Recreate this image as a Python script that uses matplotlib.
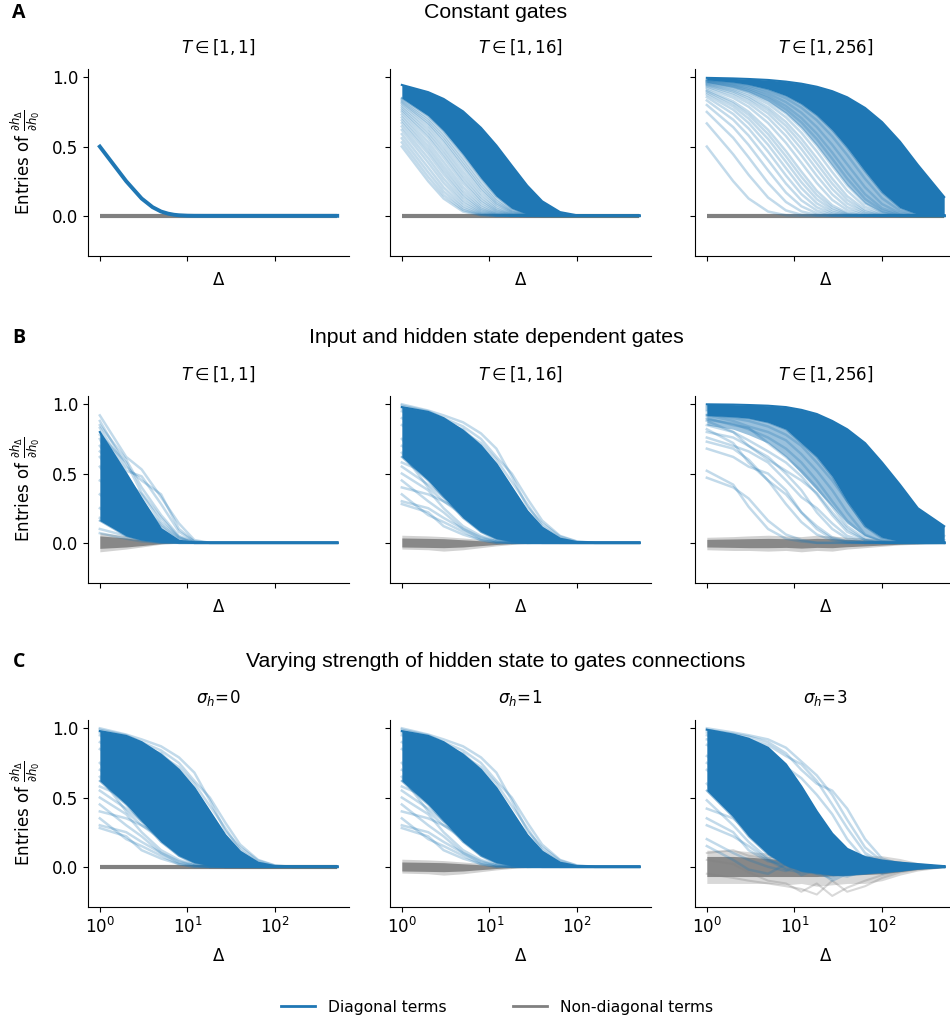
import matplotlib
matplotlib.use("Agg")
import matplotlib.pyplot as plt
from matplotlib.lines import Line2D

BLUE = "#1f77b4"
GRAY = "#808080"

# Delta grid (x values at which curves are read)
DELTA = [1, 2, 3, 5, 8, 12, 18, 27, 40, 64, 100, 160, 256, 512]
ZERO = [0, 0, 0, 0, 0, 0, 0, 0, 0, 0, 0, 0, 0, 0]

# ---------------- Row A : constant gates ----------------
A1_delta = [1, 2, 3, 4, 5, 6, 7, 8, 10, 12, 16, 32, 64, 128, 256, 512]
A1_diag = [0.50, 0.25, 0.125, 0.0625, 0.031, 0.016, 0.008, 0.004, 0.001, 0.0002, 0, 0, 0, 0, 0, 0]

A2_strands = [
    [.50, .250, .125, .031, .004, 0, 0, 0, 0, 0, 0, 0, 0, 0],
    [.53, .281, .149, .042, .006, 0, 0, 0, 0, 0, 0, 0, 0, 0],
    [.56, .314, .176, .055, .010, .001, 0, 0, 0, 0, 0, 0, 0, 0],
    [.59, .348, .205, .072, .015, .002, 0, 0, 0, 0, 0, 0, 0, 0],
    [.62, .384, .238, .092, .022, .003, 0, 0, 0, 0, 0, 0, 0, 0],
    [.645, .416, .268, .112, .030, .005, 0, 0, 0, 0, 0, 0, 0, 0],
    [.67, .449, .301, .135, .041, .008, .001, 0, 0, 0, 0, 0, 0, 0],
    [.69, .476, .329, .156, .051, .012, .001, 0, 0, 0, 0, 0, 0, 0],
    [.71, .504, .358, .180, .065, .016, .002, 0, 0, 0, 0, 0, 0, 0],
    [.73, .533, .389, .207, .081, .023, .003, 0, 0, 0, 0, 0, 0, 0],
    [.75, .563, .422, .237, .100, .032, .006, 0, 0, 0, 0, 0, 0, 0],
    [.765, .585, .448, .262, .117, .040, .008, .001, 0, 0, 0, 0, 0, 0],
    [.78, .608, .475, .289, .137, .051, .011, .001, 0, 0, 0, 0, 0, 0],
    [.795, .632, .502, .318, .160, .064, .016, .002, 0, 0, 0, 0, 0, 0],
    [.81, .656, .531, .349, .185, .080, .023, .003, 0, 0, 0, 0, 0, 0],
    [.82, .672, .551, .371, .204, .092, .028, .005, 0, 0, 0, 0, 0, 0],
    [.83, .689, .572, .394, .225, .107, .035, .007, .001, 0, 0, 0, 0, 0],
    [.84, .706, .593, .418, .248, .123, .043, .009, .001, 0, 0, 0, 0, 0],
]
A2_band_lo = [.85, .723, .614, .444, .273, .142, .054, .012, .002, 0, 0, 0, 0, 0]
A2_band_hi = [.945, .893, .844, .754, .636, .508, .362, .218, .105, .027, .004, 0, 0, 0]

A3_strands = [
    [.50, .25, .125, .031, .004, 0, 0, 0, 0, 0, 0, 0, 0, 0],
    [.667, .444, .296, .132, .039, .008, .001, 0, 0, 0, 0, 0, 0, 0],
    [.75, .563, .422, .237, .100, .032, .006, 0, 0, 0, 0, 0, 0, 0],
    [.80, .64, .512, .328, .168, .069, .018, .002, 0, 0, 0, 0, 0, 0],
    [.833, .694, .579, .402, .233, .112, .038, .007, .001, 0, 0, 0, 0, 0],
    [.857, .735, .630, .463, .291, .157, .062, .016, .002, 0, 0, 0, 0, 0],
    [.875, .766, .670, .513, .344, .201, .090, .027, .005, 0, 0, 0, 0, 0],
    [.889, .790, .702, .555, .390, .243, .120, .042, .009, .001, 0, 0, 0, 0],
    [.90, .81, .729, .590, .430, .282, .150, .058, .015, .001, 0, 0, 0, 0],
    [.909, .826, .751, .621, .467, .319, .180, .076, .022, .002, 0, 0, 0, 0],
    [.923, .852, .787, .670, .527, .383, .237, .115, .041, .006, 0, 0, 0, 0],
    [.933, .871, .813, .708, .576, .437, .289, .155, .063, .012, .001, 0, 0, 0],
    [.941, .886, .834, .739, .616, .483, .336, .194, .089, .021, .002, 0, 0, 0],
    [.947, .898, .850, .763, .649, .523, .378, .232, .115, .031, .004, 0, 0, 0],
    [.952, .907, .864, .783, .677, .557, .416, .268, .142, .044, .008, 0, 0, 0],
    [.958, .918, .880, .808, .711, .600, .465, .316, .182, .065, .014, .001, 0, 0],
    [.963, .927, .893, .828, .740, .636, .507, .361, .221, .090, .023, .002, 0, 0],
    [.968, .937, .906, .849, .769, .675, .554, .412, .269, .122, .038, .005, 0, 0],
    [.971, .944, .917, .865, .793, .706, .593, .457, .313, .156, .055, .010, .001, 0],
    [.976, .952, .929, .884, .821, .744, .641, .513, .372, .206, .085, .019, .002, 0],
    [.980, .960, .940, .902, .848, .781, .690, .573, .439, .267, .127, .037, .005, 0],
]
A3_halo_lo = [.963, .927, .893, .828, .740, .636, .507, .361, .221, .090, .023, .002, 0, 0]
A3_band_lo = [.982, .965, .948, .915, .868, .809, .727, .620, .493, .322, .170, .059, .011, 0]
A3_band_hi = [.996, .992, .988, .981, .969, .954, .932, .900, .856, .779, .677, .536, .368, .136]

# ---------------- Row B : input and hidden state dependent gates ----------------
B1_strands = [
    [.92, .62, .53, .33, .14, .02, 0, 0, 0, 0, 0, 0, 0, 0],
    [.88, .55, .45, .35, .10, .01, 0, 0, 0, 0, 0, 0, 0, 0],
    [.85, .60, .40, .20, .05, .005, 0, 0, 0, 0, 0, 0, 0, 0],
    [.83, .52, .48, .28, .08, .01, 0, 0, 0, 0, 0, 0, 0, 0],
    [.78, .58, .36, .18, .04, 0, 0, 0, 0, 0, 0, 0, 0, 0],
    [.75, .35, .18, .05, 0, 0, 0, 0, 0, 0, 0, 0, 0, 0],
    [.70, .45, .35, .15, .04, 0, 0, 0, 0, 0, 0, 0, 0, 0],
    [.66, .50, .30, .13, .03, 0, 0, 0, 0, 0, 0, 0, 0, 0],
    [.62, .40, .28, .12, .02, 0, 0, 0, 0, 0, 0, 0, 0, 0],
    [.55, .30, .20, .08, .01, 0, 0, 0, 0, 0, 0, 0, 0, 0],
    [.45, .35, .22, .06, .01, 0, 0, 0, 0, 0, 0, 0, 0, 0],
    [.35, .20, .12, .04, 0, 0, 0, 0, 0, 0, 0, 0, 0, 0],
    [.25, .15, .10, .03, 0, 0, 0, 0, 0, 0, 0, 0, 0, 0],
    [.18, .12, .06, .01, 0, 0, 0, 0, 0, 0, 0, 0, 0, 0],
    [.10, .05, .02, 0, 0, 0, 0, 0, 0, 0, 0, 0, 0, 0],
    [.07, .03, .01, 0, 0, 0, 0, 0, 0, 0, 0, 0, 0, 0],
]
B1_band_lo = [.16, .05, .02, .003, 0, 0, 0, 0, 0, 0, 0, 0, 0, 0]
B1_band_hi = [.80, .50, .32, .10, .015, 0, 0, 0, 0, 0, 0, 0, 0, 0]
B1_gray_outer_lo = [-.065, -.045, -.03, -.01, -.002, 0, 0, 0, 0, 0, 0, 0, 0, 0]
B1_gray_outer_hi = [.075, .05, .03, .01, .002, 0, 0, 0, 0, 0, 0, 0, 0, 0]
B1_gray_inner_lo = [-.04, -.03, -.02, -.006, 0, 0, 0, 0, 0, 0, 0, 0, 0, 0]
B1_gray_inner_hi = [.05, .035, .02, .006, 0, 0, 0, 0, 0, 0, 0, 0, 0, 0]

B2_strands = [
    [1.0, .955, .92, .87, .79, .68, .48, .26, .14, .045, .008, 0, 0, 0],
    [.99, .95, .90, .84, .75, .62, .50, .32, .16, .05, .01, 0, 0, 0],
    [.97, .93, .88, .80, .72, .60, .44, .28, .12, .03, .005, 0, 0, 0],
    [.95, .90, .86, .82, .70, .55, .38, .22, .09, .02, 0, 0, 0, 0],
    [.90, .82, .72, .58, .42, .28, .14, .05, .01, 0, 0, 0, 0, 0],
    [.85, .75, .62, .45, .30, .15, .05, .01, 0, 0, 0, 0, 0, 0],
    [.75, .55, .40, .25, .10, .03, .01, 0, 0, 0, 0, 0, 0, 0],
    [.70, .60, .50, .30, .15, .06, .02, 0, 0, 0, 0, 0, 0, 0],
    [.65, .40, .30, .20, .08, .02, 0, 0, 0, 0, 0, 0, 0, 0],
    [.58, .50, .45, .35, .22, .10, .03, .01, 0, 0, 0, 0, 0, 0],
    [.55, .42, .33, .25, .12, .04, .01, 0, 0, 0, 0, 0, 0, 0],
    [.50, .38, .25, .12, .05, .01, 0, 0, 0, 0, 0, 0, 0, 0],
    [.45, .30, .22, .10, .04, .01, 0, 0, 0, 0, 0, 0, 0, 0],
    [.40, .35, .30, .22, .12, .05, .01, 0, 0, 0, 0, 0, 0, 0],
    [.35, .20, .15, .08, .02, 0, 0, 0, 0, 0, 0, 0, 0, 0],
    [.30, .25, .18, .10, .03, .01, 0, 0, 0, 0, 0, 0, 0, 0],
    [.28, .22, .12, .06, .02, 0, 0, 0, 0, 0, 0, 0, 0, 0],
]
B2_band_lo = [.62, .45, .33, .18, .08, .03, .01, 0, 0, 0, 0, 0, 0, 0]
B2_band_hi = [.98, .945, .90, .81, .70, .57, .40, .23, .11, .03, .005, 0, 0, 0]
B2_gray_outer_lo = [-.045, -.05, -.06, -.05, -.035, -.022, -.012, -.006, -.002, 0, 0, 0, 0, 0]
B2_gray_outer_hi = [.055, .05, .045, .035, .025, .015, .008, .004, .002, 0, 0, 0, 0, 0]
B2_gray_inner_lo = [-.03, -.033, -.035, -.03, -.02, -.012, -.006, -.003, 0, 0, 0, 0, 0, 0]
B2_gray_inner_hi = [.035, .032, .03, .022, .015, .009, .005, .002, 0, 0, 0, 0, 0, 0]

B3_strands = [
    [.52, .42, .26, .10, .03, .01, 0, 0, 0, 0, 0, 0, 0, 0],
    [.47, .40, .32, .16, .06, .02, 0, 0, 0, 0, 0, 0, 0, 0],
    [.73, .68, .60, .45, .28, .15, .06, .02, 0, 0, 0, 0, 0, 0],
    [.68, .62, .55, .50, .38, .22, .10, .03, .01, 0, 0, 0, 0, 0],
    [.80, .76, .70, .62, .50, .38, .22, .10, .03, 0, 0, 0, 0, 0],
    [.85, .80, .74, .66, .58, .48, .35, .20, .08, .02, 0, 0, 0, 0],
    [.89, .86, .82, .76, .68, .58, .45, .30, .16, .05, .01, 0, 0, 0],
    [.90, .85, .83, .72, .62, .52, .40, .26, .12, .03, 0, 0, 0, 0],
    [.82, .72, .58, .45, .35, .22, .12, .04, .01, 0, 0, 0, 0, 0],
    [.76, .70, .66, .58, .45, .33, .25, .14, .05, .01, 0, 0, 0, 0],
    [.93, .90, .88, .84, .78, .70, .58, .45, .30, .12, .03, .01, 0, 0],
    [.95, .93, .91, .88, .84, .78, .68, .55, .40, .20, .06, .01, 0, 0],
    [.96, .95, .93, .91, .88, .83, .76, .66, .52, .32, .14, .04, .01, 0],
    [.97, .96, .95, .93, .91, .87, .82, .74, .62, .44, .25, .10, .03, 0],
    [.98, .97, .96, .95, .93, .90, .86, .80, .72, .56, .38, .20, .08, .02],
    [.99, .98, .97, .96, .95, .93, .90, .85, .78, .64, .47, .30, .15, .05],
    [.88, .80, .70, .60, .52, .45, .36, .22, .10, .02, 0, 0, 0, 0],
    [.92, .88, .84, .80, .74, .64, .52, .38, .22, .06, .01, 0, 0, 0],
]
B3_halo_lo = [.85, .82, .78, .72, .62, .50, .38, .26, .14, .05, .01, 0, 0, 0]
B3_band_lo = [.92, .91, .90, .87, .82, .72, .62, .48, .30, .12, .04, .01, 0, 0]
B3_band_hi = [1.0, .998, .995, .99, .98, .96, .93, .88, .82, .72, .58, .42, .25, .12]
B3_gray_outer_lo = [-.05, -.055, -.055, -.06, -.055, -.065, -.055, -.06, -.045, -.035, -.025, -.015, -.01, -.004]
B3_gray_outer_hi = [.04, .045, .05, .055, .05, .045, .055, .05, .04, .035, .025, .015, .01, .004]
B3_gray_inner_lo = [-.03, -.033, -.035, -.035, -.033, -.038, -.033, -.035, -.028, -.022, -.016, -.01, -.006, -.002]
B3_gray_inner_hi = [.025, .028, .03, .032, .03, .028, .032, .03, .025, .02, .015, .01, .006, .002]

# ---------------- Row C : varying hidden-to-gate strength ----------------
C3_strands = [
    [1.0, .97, .95, .92, .86, .76, .66, .52, .34, .14, .04, .01, 0, 0],
    [.99, .96, .94, .90, .82, .70, .60, .55, .42, .20, .06, .02, -.01, 0],
    [.97, .95, .92, .88, .80, .74, .62, .45, .28, .10, .03, 0, .01, 0],
    [.95, .90, .85, .78, .72, .64, .52, .38, .20, .05, -.02, .01, 0, 0],
    [.30, .22, .15, .05, -.02, -.04, -.02, 0, 0, 0, 0, 0, 0, 0],
    [.35, .25, .12, .04, .02, -.03, -.05, -.02, 0, 0, 0, 0, 0, 0],
    [.48, .30, .18, .06, -.01, .02, -.03, -.04, -.02, -.01, 0, 0, 0, 0],
    [.42, .35, .25, .12, .05, 0, -.05, -.08, -.03, -.01, 0, 0, 0, 0],
    [.60, .40, .30, .15, .08, .03, -.02, -.06, -.04, 0, .01, 0, 0, 0],
    [.70, .55, .40, .22, .10, .05, .02, -.05, -.07, -.03, -.01, 0, 0, 0],
    [.80, .70, .58, .40, .25, .12, .05, .02, .06, .03, 0, -.02, 0, 0],
    [.88, .80, .72, .60, .45, .30, .18, .08, .02, -.04, .02, .03, 0, 0],
    [.75, .65, .55, .48, .35, .22, .10, .04, -.02, .05, .02, -.03, .01, 0],
    [.92, .88, .82, .72, .62, .50, .35, .20, .08, .02, -.05, -.02, .01, 0],
    [.20, .10, .05, 0, -.03, .02, .06, -.02, .04, .08, .03, -.02, .01, 0],
    [.15, .05, -.02, -.05, .02, -.06, -.02, -.10, -.05, .02, -.04, .02, 0, 0],
]
C3_band_lo = [.55, .36, .22, .09, .01, -.03, -.045, -.06, -.06, -.05, -.04, -.03, -.015, -.003]
C3_band_hi = [.99, .955, .925, .86, .74, .58, .40, .24, .13, .07, .045, .03, .02, .005]
C3_gray_outer_lo = [-.12, -.12, -.12, -.12, -.13, -.12, -.14, -.13, -.12, -.12, -.10, -.06, -.03, -.005]
C3_gray_outer_hi = [.12, .12, .11, .10, .09, .10, .08, .10, .09, .08, .08, .06, .03, .005]
C3_gray_inner_lo = [-.07, -.07, -.07, -.07, -.07, -.07, -.07, -.065, -.06, -.055, -.05, -.035, -.018, -.003]
C3_gray_inner_hi = [.075, .075, .07, .06, .05, .05, .05, .05, .05, .045, .04, .03, .015, .003]
C3_gray_lines = [
    [-.05, -.08, -.10, -.12, -.14, -.16, -.20, -.10, -.18, -.14, -.08, -.04, -.02, 0],
    [.05, .02, -.04, -.10, -.12, -.18, -.12, -.21, -.15, -.10, -.06, -.03, -.01, 0],
    [.10, .12, .08, .06, .10, .05, .12, .08, .11, .06, .05, .03, .01, 0],
]

ROW_TITLES = ["Constant gates", "Input and hidden state dependent gates",
              "Varying strength of hidden state to gates connections"]
ROW_LETTERS = ["A", "B", "C"]
COL_TITLES = [[r"$T\in[1,1]$", r"$T\in[1,16]$", r"$T\in[1,256]$"],
              [r"$T\in[1,1]$", r"$T\in[1,16]$", r"$T\in[1,256]$"],
              [r"$\sigma_h\!=\!0$", r"$\sigma_h\!=\!1$", r"$\sigma_h\!=\!3$"]]
Y_TICKS = [0.0, 0.5, 1.0]
X_TICKS = [1, 10, 100]
LEGEND_LABELS = ["Diagonal terms", "Non-diagonal terms"]

GB2 = [(B2_gray_outer_lo, B2_gray_outer_hi, 0.35), (B2_gray_inner_lo, B2_gray_inner_hi, 0.9)]
panels = [
    [dict(x=A1_delta, lines=[A1_diag], lw_lines=2.8, alpha_lines=1.0, gray_zero=True),
     dict(lines=A2_strands, bands=[(A2_band_lo, A2_band_hi, 1.0)], gray_zero=True),
     dict(lines=A3_strands, bands=[(A3_halo_lo, A3_band_lo, 0.45), (A3_band_lo, A3_band_hi, 1.0)], gray_zero=True)],
    [dict(lines=B1_strands, bands=[(B1_band_lo, B1_band_hi, 1.0)],
          gbands=[(B1_gray_outer_lo, B1_gray_outer_hi, 0.35), (B1_gray_inner_lo, B1_gray_inner_hi, 0.9)]),
     dict(lines=B2_strands, bands=[(B2_band_lo, B2_band_hi, 1.0)], gbands=GB2),
     dict(lines=B3_strands, bands=[(B3_halo_lo, B3_band_lo, 0.45), (B3_band_lo, B3_band_hi, 1.0)],
          gbands=[(B3_gray_outer_lo, B3_gray_outer_hi, 0.35), (B3_gray_inner_lo, B3_gray_inner_hi, 0.9)])],
    [dict(lines=B2_strands, bands=[(B2_band_lo, B2_band_hi, 1.0)], gray_zero=True),
     dict(lines=B2_strands, bands=[(B2_band_lo, B2_band_hi, 1.0)], gbands=GB2),
     dict(lines=C3_strands, bands=[(C3_band_lo, C3_band_hi, 1.0)],
          gbands=[(C3_gray_outer_lo, C3_gray_outer_hi, 0.3), (C3_gray_inner_lo, C3_gray_inner_hi, 0.9)],
          glines=C3_gray_lines)],
]

W, H = 950, 1021
plt.rcParams["mathtext.fontset"] = "dejavusans"
fig = plt.figure(figsize=(W / 100, H / 100), dpi=100)

col_left = [88, 390, 695]
row_top = [69, 396, 720]
ax_w, ax_h = 261, 187
row_title_y = [12, 337, 661]

for r in range(3):
    fig.text(0.522, 1 - row_title_y[r] / H, ROW_TITLES[r], ha="center", va="center",
             fontsize=15.3, family="Liberation Sans")
    fig.text(19 / W, 1 - (row_title_y[r] + 1) / H, ROW_LETTERS[r], ha="center", va="center",
             fontsize=14, fontweight="bold", family="Open Sans")
    for c in range(3):
        p = panels[r][c]
        x = p.get("x", DELTA)
        ax = fig.add_axes([col_left[c] / W, 1 - (row_top[r] + ax_h) / H, ax_w / W, ax_h / H])
        # gray (non-diagonal) terms
        if p.get("gray_zero"):
            ax.plot(DELTA, ZERO, color=GRAY, lw=3.0, solid_capstyle="butt", zorder=1)
        for lo, hi, a in p.get("gbands", []):
            ax.fill_between(DELTA, lo, hi, color=GRAY, alpha=a, lw=0, zorder=1)
        for g in p.get("glines", []):
            ax.plot(DELTA, g, color=GRAY, alpha=0.3, lw=1.5, zorder=1)
        # blue (diagonal) terms
        for lo, hi, a in p.get("bands", []):
            ax.fill_between(DELTA, lo, hi, color=BLUE, alpha=a, lw=0, zorder=2)
            if a >= 1.0:
                ax.plot(DELTA, hi, color=BLUE, lw=1.5, zorder=2)
                ax.plot(DELTA, lo, color=BLUE, lw=1.5, alpha=0.5, zorder=2)
        for ln in p["lines"]:
            ax.plot(x, ln, color=BLUE, lw=p.get("lw_lines", 1.8),
                    alpha=p.get("alpha_lines", 0.27), zorder=3)
        ax.set_xscale("log")
        ax.set_xlim(10 ** -0.135, 10 ** 2.844)
        ax.set_ylim(-0.29, 1.06)
        ax.set_xticks(X_TICKS)
        ax.minorticks_off()
        ax.set_yticks(Y_TICKS)
        ax.spines["top"].set_visible(False)
        ax.spines["right"].set_visible(False)
        ax.tick_params(labelsize=12)
        if r < 2:
            ax.tick_params(labelbottom=False)
        if c > 0:
            ax.tick_params(labelleft=False)
        else:
            ax.set_ylabel(r"Entries of $\frac{\partial h_\Delta}{\partial h_0}$", fontsize=12, labelpad=7)
        ax.set_xlabel("Δ", fontsize=12, labelpad=7)
        ax.set_title(COL_TITLES[r][c], fontsize=12, pad=12)

handles = [Line2D([], [], color=BLUE, lw=2), Line2D([], [], color=GRAY, lw=2)]
fig.legend(handles, LEGEND_LABELS, loc="center",
           bbox_to_anchor=(0.523, 1 - 1007 / H), ncol=2, frameon=False,
           columnspacing=4.3, handlelength=2.2, handletextpad=0.8, fontsize=11.2)

fig.savefig("out.png", dpi=100)
